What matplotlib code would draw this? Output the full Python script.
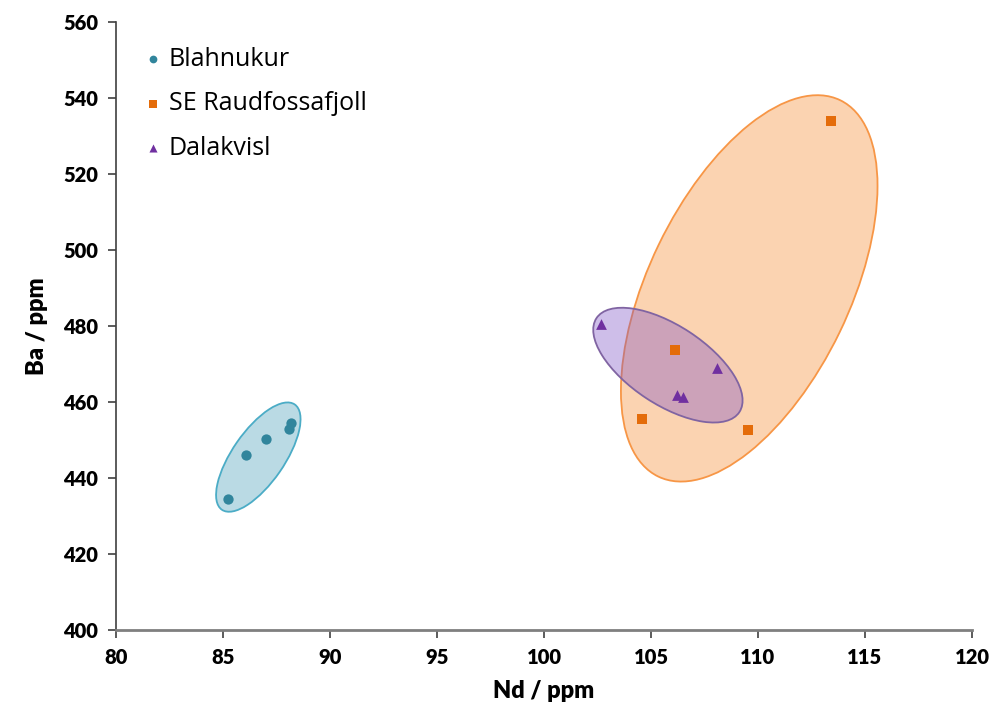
import matplotlib
matplotlib.use("Agg")
import matplotlib.pyplot as plt
from matplotlib.patches import Ellipse
import matplotlib.transforms as mtransforms

plt.rcParams['font.family'] = ['Lato', 'DejaVu Sans']

# Data
blah_nd = [85.25, 86.07, 87.01, 88.08, 88.18]
blah_ba = [434.6, 446.0, 450.3, 452.9, 454.6]
raud_nd = [113.41, 106.12, 104.58, 109.53]
raud_ba = [533.9, 473.7, 455.5, 452.6]
dala_nd = [102.66, 108.08, 106.21, 106.50]
dala_ba = [480.4, 468.9, 461.9, 461.3]

x_ticks = list(range(80, 121, 5))
y_ticks = list(range(400, 561, 20))

# Envelope ellipses: centre (data), width/height (pixels), angle (deg)
env_centres = [(86.65, 445.5), (109.59, 489.9), (105.79, 469.7)]
env_sizes = [(128, 52), (418, 201), (171, 79)]
env_angles = [55.3, 64.2, -33.3]
env_fc = [(0.29, 0.62, 0.72, 0.38), (0.97, 0.59, 0.27, 0.42), (0.50, 0.33, 0.78, 0.38)]
env_ec = ['#4BACC6', '#F79646', '#8064A2']

fig = plt.figure(figsize=(9.92, 7.08), dpi=100)
ax = fig.add_axes([116/992, (708-630)/708, 856/992, 608/708])
ax.set_xlim(80, 120)
ax.set_ylim(400, 560)

for (cx, cy), (w, h), ang, fc, ec in zip(env_centres, env_sizes, env_angles, env_fc, env_ec):
    tr = fig.dpi_scale_trans + mtransforms.ScaledTranslation(cx, cy, ax.transData)
    e = Ellipse((0, 0), w/100, h/100, angle=ang, transform=tr,
                facecolor=fc, edgecolor=ec, lw=1.3, zorder=1)
    ax.add_patch(e)

ax.scatter(blah_nd, blah_ba, s=55, marker='o', color='#31859C', zorder=3, label='Blahnukur', linewidths=0)
ax.scatter(raud_nd, raud_ba, s=60, marker='s', color='#E46C0A', zorder=3, label='SE Raudfossafjoll', linewidths=0)
ax.scatter(dala_nd, dala_ba, s=60, marker='^', color='#7030A0', zorder=3, label='Dalakvisl', linewidths=0)

ax.set_xticks(x_ticks)
ax.set_yticks(y_ticks)
for s in ['top', 'right']:
    ax.spines[s].set_visible(False)
ax.spines['left'].set_color('#404040')
ax.spines['left'].set_linewidth(1.2)
ax.spines['bottom'].set_color('#7f7f7f')
ax.spines['bottom'].set_linewidth(2.0)
ax.tick_params(direction='out', length=6, width=1.2, color='#404040', labelsize=14.5, pad=7)
for lab in ax.get_xticklabels() + ax.get_yticklabels():
    lab.set_fontweight('heavy')

ax.set_xlabel('Nd / ppm', fontsize=17, fontweight='heavy', labelpad=9)
ax.set_ylabel('Ba / ppm', fontsize=17, fontweight='heavy', labelpad=11)

leg = ax.legend(loc='upper left', bbox_to_anchor=(0.021, 0.976), frameon=False,
                prop={'family': ['Open Sans', 'DejaVu Sans'], 'size': 18},
                handlelength=0.72, handletextpad=0.28, labelspacing=0.78,
                markerscale=0.75, borderaxespad=0)

fig.savefig('out.png', dpi=100)
